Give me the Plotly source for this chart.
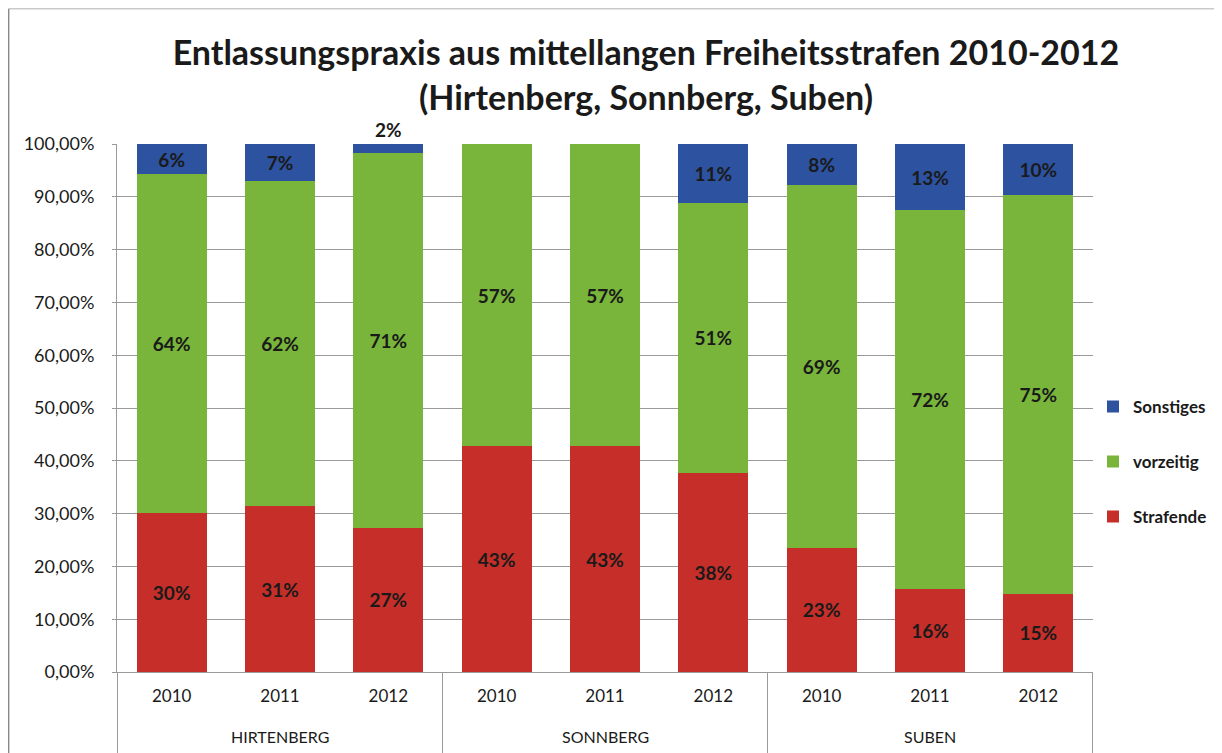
import plotly.graph_objects as go

# Anstalten und Jahre
anstalten = ["HIRTENBERG"] * 3 + ["SONNBERG"] * 3 + ["SUBEN"] * 3
jahre = ["2010", "2011", "2012"] * 3
gruppen = ["HIRTENBERG", "SONNBERG", "SUBEN"]

# Anteile (aus der Grafik geschätzt)
strafende = [0.301, 0.314, 0.273, 0.428, 0.428, 0.377, 0.235, 0.157, 0.148]
vorzeitig = [0.642, 0.616, 0.710, 0.572, 0.572, 0.512, 0.687, 0.718, 0.755]
sonstiges = [0.057, 0.070, 0.017, 0.0, 0.0, 0.111, 0.078, 0.125, 0.097]

# Beschriftungen wie im Original
txt_strafende = ["30%", "31%", "27%", "43%", "43%", "38%", "23%", "16%", "15%"]
txt_vorzeitig = ["64%", "62%", "71%", "57%", "57%", "51%", "69%", "72%", "75%"]
txt_sonstiges = ["6%", "7%", "2%", "", "", "11%", "8%", "13%", "10%"]

FONT = "Lato"
RED = "#C62F29"
GREEN = "#78B53A"
BLUE = "#2C52A0"
GRID = "#9a9a9a"

kat = [f"{a} {j}" for a, j in zip(anstalten, jahre)]

fig = go.Figure()
fig.add_trace(go.Bar(x=kat, y=strafende, name="Strafende", marker_color=RED,
                     text=txt_strafende, textposition="inside",
                     legendgroup="a", legendrank=3))
fig.add_trace(go.Bar(x=kat, y=vorzeitig, name="vorzeitig", marker_color=GREEN,
                     text=txt_vorzeitig, textposition="inside",
                     legendgroup="b", legendrank=2))
fig.add_trace(go.Bar(x=kat, y=sonstiges, name="Sonstiges", marker_color=BLUE,
                     text=txt_sonstiges,
                     textposition=["inside", "inside", "outside"] + ["inside"] * 6,
                     legendgroup="c", legendrank=1, cliponaxis=False))

fig.update_traces(insidetextanchor="middle", constraintext="none",
                  textfont=dict(family=FONT, size=19, color="#1a1a1a", weight="bold"),
                  marker_line_width=0, width=0.645)

fig.update_layout(
    width=1214, height=745,
    barmode="stack",
    separators=",.",
    paper_bgcolor="white", plot_bgcolor="white",
    font=dict(family=FONT, size=16, color="#1a1a1a"),
    margin=dict(l=109, r=129, t=136, b=81, autoexpand=False),
    title=dict(text="<b>Entlassungspraxis aus mittellangen Freiheitsstrafen 2010-2012<br>(Hirtenberg, Sonnberg, Suben)</b>",
               x=0.5255, xanchor="center", y=0.923, yanchor="top",
               font=dict(family=FONT, size=34, color="#1a1a1a")),
    legend=dict(x=1.0, y=0.398, xanchor="left", yanchor="middle",
                traceorder="grouped", tracegroupgap=30,
                font=dict(family=FONT, size=17, color="#1a1a1a", weight="bold"),
                itemwidth=30),
    uniformtext=dict(minsize=8, mode="show"),
)

fig.update_yaxes(range=[0, 1], dtick=0.1, tickformat=".2%",
                 showgrid=True, gridcolor=GRID, gridwidth=1,
                 showline=True, linecolor=GRID,
                 ticks="outside", ticklen=4, tickcolor=GRID,
                 ticklabelstandoff=14, zeroline=False,
                 tickfont=dict(size=18))
fig.update_xaxes(showline=True, linecolor=GRID, ticks="",
                 tickvals=kat, ticktext=jahre, ticklabelstandoff=9,
                 tickfont=dict(size=17))

# Anstaltsnamen unter den Jahren
for g in gruppen:
    mitte = kat[anstalten.index(g) + 1]
    fig.add_annotation(x=mitte, y=-0.123, xref="x", yref="paper", text=g,
                       showarrow=False, yanchor="middle",
                       font=dict(family=FONT, size=16, color="#1a1a1a"))

# Trennlinien zwischen den Anstalten
for i in range(len(gruppen) + 1):
    fig.add_shape(type="line", xref="x", yref="paper", x0=3 * i - 0.5, x1=3 * i - 0.5,
                  y0=0, y1=-0.16, line=dict(color=GRID, width=1))

# Diagrammrahmen links und oben
fig.add_shape(type="line", xref="paper", yref="paper", x0=-0.111, x1=-0.111,
              y0=1.256, y1=-0.2, line=dict(color="#8a8a8a", width=1.5))
fig.add_shape(type="line", xref="paper", yref="paper", x0=-0.111, x1=1.13,
              y0=1.256, y1=1.256, line=dict(color="#b0b0b0", width=1))

fig.write_html("out.html")
